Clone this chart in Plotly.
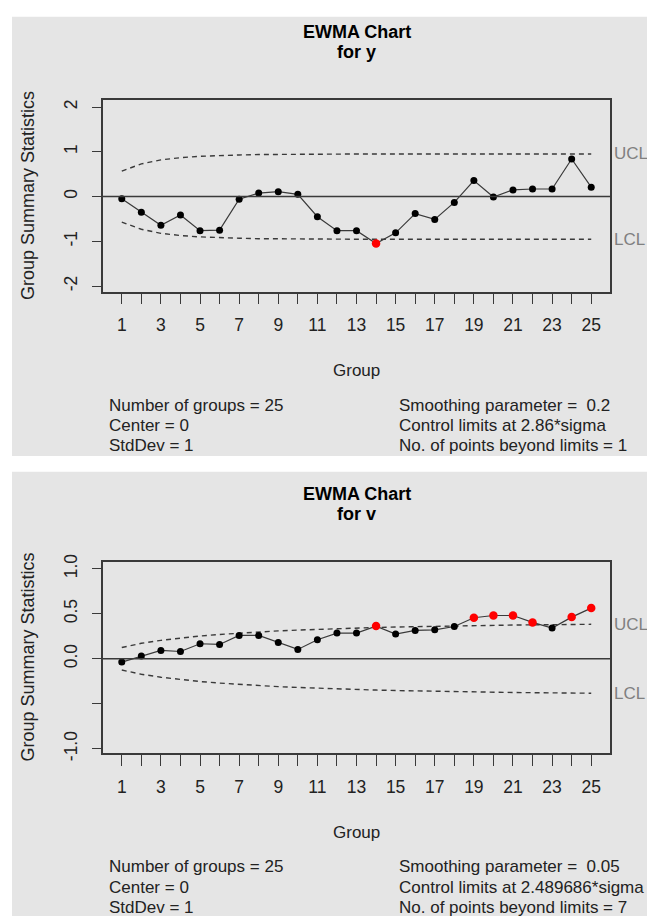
import plotly.graph_objects as go

W, H = 647, 924

groups = list(range(1, 26))

# Top chart: EWMA for y (lambda = 0.2)
ewma_y = [-0.05, -0.35, -0.64, -0.41, -0.76, -0.75, -0.06, 0.08, 0.11, 0.05,
          -0.45, -0.76, -0.76, -1.05, -0.81, -0.38, -0.51, -0.13, 0.36, -0.01,
          0.15, 0.17, 0.17, 0.84, 0.21]
ucl_y = [0.57, 0.73, 0.82, 0.87, 0.90, 0.92, 0.93, 0.94, 0.945, 0.948,
         0.95, 0.951, 0.952, 0.952, 0.953, 0.953, 0.953, 0.953, 0.953, 0.953,
         0.953, 0.953, 0.953, 0.953, 0.953]
lcl_y = [-v for v in ucl_y]
center_y = 0
yticks_top = [-2, -1, 0, 1, 2]
yticktext_top = ["-2", "-1", "0", "1", "2"]

# Bottom chart: EWMA for v (lambda = 0.05)
ewma_v = [-0.037, 0.03, 0.093, 0.081, 0.167, 0.159, 0.259, 0.259, 0.181, 0.104,
          0.211, 0.285, 0.285, 0.363, 0.274, 0.315, 0.322, 0.359, 0.456, 0.481,
          0.481, 0.404, 0.341, 0.463, 0.563]
ucl_v = [0.125, 0.172, 0.205, 0.231, 0.253, 0.270, 0.285, 0.298, 0.310, 0.319,
         0.328, 0.336, 0.342, 0.348, 0.353, 0.358, 0.362, 0.366, 0.369, 0.372,
         0.375, 0.377, 0.379, 0.381, 0.383]
lcl_v = [-v for v in ucl_v]
center_v = 0
yticks_bot = [-1.0, -0.5, 0.0, 0.5, 1.0]
yticktext_bot = ["-1.0", "", "0.0", "0.5", "1.0"]

xtickvals = groups
xticktext = [str(g) if g % 2 == 1 else "" for g in groups]

FONT = "Liberation Sans, Arial, Helvetica, sans-serif"
INK = "#222222"
AX = "#3a3a3a"
GRAY_BG = "#e5e5e5"


def px_x(p):
    return p / W


def px_y(p):
    return 1 - p / H


fig = go.Figure()


def add_chart(idx, vals, ucl, lcl, center, yrange, ytv, ytt, top_px, bot_px,
              title2, stats_left, stats_right, bg_top, bg_bot):
    xa = "x" if idx == 1 else "x2"
    ya = "y" if idx == 1 else "y2"
    xkey = "xaxis" if idx == 1 else "xaxis2"
    ykey = "yaxis" if idx == 1 else "yaxis2"

    for lim in (ucl, lcl):
        fig.add_trace(go.Scatter(x=groups, y=lim, mode="lines", xaxis=xa, yaxis=ya,
                                 line=dict(color=AX, width=1.4, dash="5px,4px"),
                                 hoverinfo="skip", showlegend=False))
    fig.add_trace(go.Scatter(x=groups, y=vals, mode="lines", xaxis=xa, yaxis=ya,
                             line=dict(color=AX, width=1.2), showlegend=False))
    inside = [(g, v) for g, v, u, l in zip(groups, vals, ucl, lcl) if l <= v <= u]
    out = [(g, v) for g, v, u, l in zip(groups, vals, ucl, lcl) if not (l <= v <= u)]
    fig.add_trace(go.Scatter(x=[p[0] for p in inside], y=[p[1] for p in inside],
                             mode="markers", xaxis=xa, yaxis=ya,
                             marker=dict(color="black", size=7), showlegend=False))
    fig.add_trace(go.Scatter(x=[p[0] for p in out], y=[p[1] for p in out],
                             mode="markers", xaxis=xa, yaxis=ya,
                             marker=dict(color="#ff0000", size=8.5), showlegend=False))

    dom_y = [px_y(bot_px), px_y(top_px)]
    fig.update_layout(**{
        xkey: dict(domain=[px_x(103), px_x(610)], range=[0.04, 25.96],
                   tickvals=xtickvals, ticktext=xticktext, ticks="outside",
                   ticklen=11, tickwidth=1.2, tickcolor=AX, showgrid=False,
                   zeroline=False, showline=True, mirror=True, linecolor=AX,
                   linewidth=1.5, anchor=ya, ticklabelstandoff=6,
                   tickfont=dict(family=FONT, size=17.5, color=INK)),
        ykey: dict(domain=dom_y, range=yrange, tickvals=ytv, ticktext=ytt,
                   ticks="outside", ticklen=9, tickwidth=1.2, tickcolor=AX,
                   tickangle=-90, showgrid=False, zeroline=False, showline=True,
                   mirror=True, linecolor=AX, linewidth=1.5, anchor=xa,
                   ticklabelstandoff=8,
                   tickfont=dict(family=FONT, size=17.5, color=INK)),
    })

    fig.add_shape(type="line", xref=f"{xa} domain", yref=ya, x0=0, x1=1,
                  y0=center, y1=center, line=dict(color=AX, width=1.5))
    fig.add_shape(type="rect", xref="paper", yref="paper", x0=px_x(12), x1=1,
                  y0=max(px_y(bg_bot), 0), y1=px_y(bg_top), fillcolor=GRAY_BG,
                  line=dict(width=0), layer="below")

    off = top_px - 94
    fig.add_annotation(text="<b>EWMA Chart</b>", xref="paper", yref="paper",
                       x=px_x(356.5), y=px_y(24.5 + off), showarrow=False,
                       xanchor="center", yanchor="middle",
                       font=dict(family=FONT, size=18, color="black"))
    fig.add_annotation(text=f"<b>{title2}</b>", xref="paper", yref="paper",
                       x=px_x(356.5), y=px_y(44.5 + off), showarrow=False,
                       xanchor="center", yanchor="middle",
                       font=dict(family=FONT, size=18, color="black"))
    fig.add_annotation(text="Group", xref="paper", yref="paper",
                       x=px_x(356.5), y=px_y(369 + off), showarrow=False,
                       xanchor="center", yanchor="middle",
                       font=dict(family=FONT, size=17, color=INK))
    fig.add_annotation(text="Group Summary Statistics", xref="paper", yref="paper",
                       x=px_x(28), y=px_y((top_px + bot_px) / 2), showarrow=False,
                       textangle=-90, xanchor="center", yanchor="middle",
                       font=dict(family=FONT, size=18, color=INK))
    fig.add_annotation(text="UCL", xref="paper", yref=ya, x=px_x(612), y=ucl[-1],
                       showarrow=False, xanchor="left", yanchor="middle",
                       font=dict(family=FONT, size=17, color="#808080"))
    fig.add_annotation(text="LCL", xref="paper", yref=ya, x=px_x(612), y=lcl[-1],
                       showarrow=False, xanchor="left", yanchor="middle",
                       font=dict(family=FONT, size=17, color="#808080"))
    for i, (ltxt, rtxt) in enumerate(zip(stats_left, stats_right)):
        yy = px_y(404 + off + i * 20.5)
        fig.add_annotation(text=ltxt, xref="paper", yref="paper", x=px_x(107),
                           y=yy, showarrow=False, xanchor="left", yanchor="middle",
                           font=dict(family=FONT, size=17, color=INK))
        fig.add_annotation(text=rtxt, xref="paper", yref="paper", x=px_x(397),
                           y=yy, showarrow=False, xanchor="left", yanchor="middle",
                           font=dict(family=FONT, size=17, color=INK))


add_chart(1, ewma_y, ucl_y, lcl_y, center_y, [-2.12, 2.15], yticks_top, yticktext_top,
          94, 288.5, "for y",
          ["Number of groups = 25", "Center = 0", "StdDev = 1"],
          ["Smoothing parameter =  0.2", "Control limits at 2.86*sigma",
           "No. of points beyond limits = 1"], 9, 456)
add_chart(2, ewma_v, ucl_v, lcl_v, center_v, [-1.046, 1.073], yticks_bot, yticktext_bot,
          564, 758, "for v",
          ["Number of groups = 25", "Center = 0", "StdDev = 1"],
          ["Smoothing parameter =  0.05", "Control limits at 2.489686*sigma",
           "No. of points beyond limits = 7"], 472, 924)

fig.update_layout(width=W, height=H, margin=dict(l=0, r=0, t=0, b=0),
                  paper_bgcolor="white", plot_bgcolor="white", showlegend=False,
                  font=dict(family=FONT))

page_fix = ("document.body.style.margin='0';"
            "document.body.style.overflow='hidden';"
            "document.documentElement.style.overflow='hidden';")
fig.write_html("out.html", post_script=page_fix,
               config={"displayModeBar": False})
